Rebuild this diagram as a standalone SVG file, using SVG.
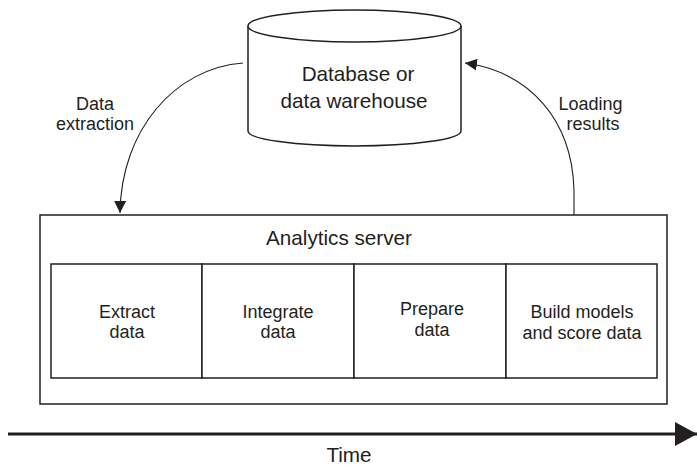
<svg xmlns="http://www.w3.org/2000/svg" width="697" height="465" viewBox="0 0 697 465">
<style>
text{font-family:"Liberation Sans",Arial,sans-serif;fill:#231f20;text-anchor:middle}
.box{fill:#fff;stroke:#231f20;stroke-width:1.5}
.lbl{font-size:18px}
.stage{font-size:18px}
.big{font-size:20.7px}
.conn{fill:none;stroke:#231f20;stroke-width:1.1}
</style>
<defs>
<marker id="ah" markerWidth="12" markerHeight="12" viewBox="0 0 12 12" refX="12" refY="6" orient="auto" markerUnits="userSpaceOnUse">
<path d="M0,0 L12,6 L0,12 Z" fill="#231f20"/>
</marker>
<marker id="big" markerWidth="22" markerHeight="24" viewBox="0 0 22 24" refX="22" refY="12" orient="auto" markerUnits="userSpaceOnUse">
<path d="M0,0 L22,12 L0,24 Z" fill="#231f20"/>
</marker>
</defs>
<g id="database">
<path class="box" d="M248,26 L248,131 A106.5,15 0 0 0 461,131 L461,26"/>
<ellipse class="box" cx="354.5" cy="26" rx="106.5" ry="16"/>
<text class="big" x="358" y="81">Database or</text>
<text class="big" x="354" y="108">data warehouse</text>
</g>
<g id="analytics-server">
<rect class="box" x="40" y="215" width="627" height="189"/>
<text class="big" x="339" y="245">Analytics server</text>
</g>
<g id="extract-data">
<rect class="box" x="51" y="264" width="151" height="114"/>
<text class="stage" x="127" y="318">Extract</text>
<text class="stage" x="127" y="338">data</text>
</g>
<g id="integrate-data">
<rect class="box" x="202" y="264" width="152" height="114"/>
<text class="stage" x="278" y="318">Integrate</text>
<text class="stage" x="278" y="338">data</text>
</g>
<g id="prepare-data">
<rect class="box" x="354" y="264" width="152" height="114"/>
<text class="stage" x="432" y="315">Prepare</text>
<text class="stage" x="432" y="336">data</text>
</g>
<g id="build-models">
<rect class="box" x="506" y="264" width="151" height="114"/>
<text class="stage" x="582" y="318">Build models</text>
<text class="stage" x="582" y="339">and score data</text>
</g>
<g id="connectors">
<path class="conn" d="M243,63 C175,68 121,130 120,213" marker-end="url(#ah)"/>
<path class="conn" d="M574,215 L574,190 C572,120 530,72 465,63" marker-end="url(#ah)"/>
<path d="M8,434 L697,434" stroke="#231f20" stroke-width="3" fill="none" marker-end="url(#big)"/>
</g>
<g id="labels">
<text class="lbl" x="95" y="110">Data</text>
<text class="lbl" x="95" y="130">extraction</text>
<text class="lbl" x="590.5" y="110">Loading</text>
<text class="lbl" x="593" y="130">results</text>
<text class="big" x="349" y="462">Time</text>
</g>
</svg>
